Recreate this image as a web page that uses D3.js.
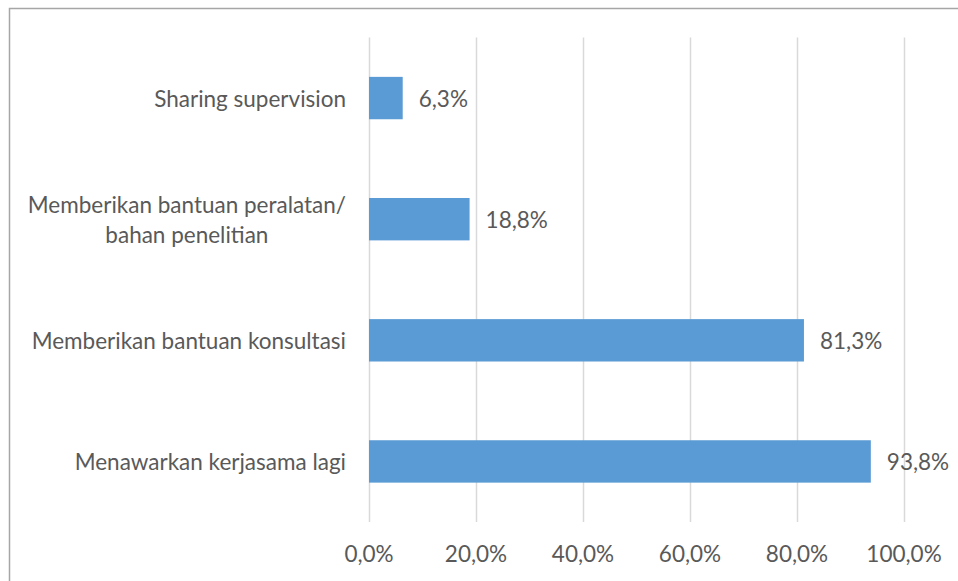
<!DOCTYPE html>
<html><head><meta charset="utf-8">
<script src="https://cdn.jsdelivr.net/npm/d3@7"></script>
<style>body{margin:0;background:#fff}svg{display:block}text{font-family:Lato,"Open Sans",sans-serif;fill:#595959}</style>
</head><body>
<svg id="c" width="958" height="581"></svg>
<script>
const categories = [["Sharing supervision"], ["Memberikan bantuan peralatan/", "bahan penelitian"], ["Memberikan bantuan konsultasi"], ["Menawarkan kerjasama lagi"]];
const values = [6.3, 18.8, 81.3, 93.8];
const ticks = [0, 20, 40, 60, 80, 100];
const fmt = v => v.toFixed(1).replace(".", ",") + "%";

const svg = d3.select("#c");
const fs = 22.5;
svg.append("rect").attr("x", 9.5).attr("y", 8.5).attr("width", 1000).attr("height", 1000)
  .attr("fill", "none").attr("stroke", "#a6a6a6").attr("stroke-width", 1.5);

const x = d3.scaleLinear().domain([0, 100]).range([369, 904]);
const y = d3.scaleBand().domain(d3.range(categories.length)).range([37.5, 522]).paddingInner(0.65).paddingOuter(0.325);

svg.append("g").selectAll("line").data(ticks).join("line")
  .attr("x1", d => Math.round(x(d)) + 0.5).attr("x2", d => Math.round(x(d)) + 0.5)
  .attr("y1", 37.5).attr("y2", 522).attr("stroke", "#d9d9d9").attr("stroke-width", 1.5);

svg.append("g").selectAll("text").data(ticks).join("text")
  .attr("x", d => x(d)).attr("y", 553).attr("text-anchor", "middle").attr("dominant-baseline", "central")
  .attr("font-size", fs).text(d => fmt(d));

svg.append("g").selectAll("rect").data(values).join("rect")
  .attr("x", x(0)).attr("y", (d, i) => y(i)).attr("width", d => x(d) - x(0)).attr("height", y.bandwidth())
  .attr("fill", "#5b9bd5");

svg.append("g").selectAll("text").data(values).join("text")
  .attr("x", d => x(d) + 16).attr("y", (d, i) => y(i) + y.bandwidth() / 2).attr("dominant-baseline", "central")
  .attr("font-size", fs).text(d => fmt(d));

const cg = svg.append("g");
categories.forEach((lines, i) => {
  const cy = y(i) + y.bandwidth() / 2;
  const t = cg.append("text").attr("font-size", fs).attr("text-anchor", "middle");
  const lh = 30;
  lines.forEach((l, j) => {
    t.append("tspan").attr("x", 0).attr("y", cy + (j - (lines.length - 1) / 2) * lh).attr("dominant-baseline", "central").text(l);
  });
  const w = t.node().getBBox().width;
  t.selectAll("tspan").attr("x", 346 - w / 2);
});
</script>
</body></html>
